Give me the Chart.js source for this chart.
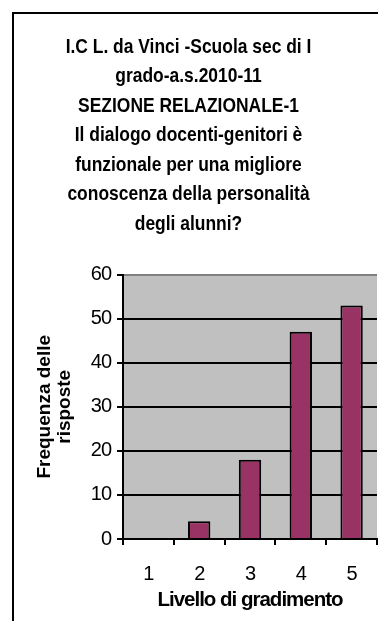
<!DOCTYPE html>
<html>
<head>
<meta charset="utf-8">
<script src="https://cdn.jsdelivr.net/npm/chart.js@4/dist/chart.umd.min.js"></script>
<style>
  html, body { margin: 0; padding: 0; background: #fff; overflow: hidden; }
  #wrap { position: relative; width: 394px; height: 621px; }
</style>
</head>
<body>
<div id="wrap"><canvas id="c" width="394" height="621"></canvas></div>
<script>
// Survey results: how many answers for each satisfaction level
const titleLines = [
  'I.C L. da Vinci -Scuola sec di I',
  'grado-a.s.2010-11',
  'SEZIONE RELAZIONALE-1',
  'Il dialogo docenti-genitori è',
  'funzionale per una migliore',
  'conoscenza della personalità',
  'degli alunni?'
];
const categories = ['1', '2', '3', '4', '5'];
const frequencies = [0, 4, 18, 47, 53];
const yTicks = [0, 10, 20, 30, 40, 50, 60];
const yTitle = ['Frequenza delle', 'risposte'];
const xTitle = 'Livello di gradimento';

const SANS = "'Liberation Sans', Arial, sans-serif";
const TIGHT = '-1px';   // condensed look for tick text and axis title
const NORMAL = '0px';
const TITLE_SQUEEZE = 0.83; // narrow title lettering

// draw a box with its own letter spacing
function withSpacing(obj, method, spacing) {
  if (!obj || obj['_sp_' + method]) return;
  const orig = obj[method];
  obj[method] = function () {
    const c = this.ctx;
    const prev = c.letterSpacing;
    c.letterSpacing = spacing;
    orig.apply(this, arguments);
    c.letterSpacing = prev;
  };
  obj['_sp_' + method] = true;
}

// chart title drawn with narrow lettering, centred on its own box
function narrowTitle(block) {
  if (!block || block._narrow) return;
  const orig = block.draw;
  block.draw = function () {
    const c = this.ctx;
    const cx = (this.left + this.right) / 2;
    c.save();
    c.letterSpacing = NORMAL;
    c.translate(cx, 0);
    c.scale(TITLE_SQUEEZE, 1);
    c.translate(-cx, 0);
    orig.apply(this, arguments);
    c.restore();
  };
  block._narrow = true;
}

// grey plot area behind the bars; also sets the tight text spacing
const plotBackground = {
  id: 'plotBackground',
  afterLayout(chart) {
    narrowTitle(chart.titleBlock);
  },
  beforeDraw(chart) {
    const { ctx, chartArea: a } = chart;
    ctx.letterSpacing = TIGHT;
    ctx.save();
    ctx.fillStyle = '#C0C0C0';
    ctx.fillRect(a.left, a.top, a.right - a.left, a.bottom - a.top);
    ctx.restore();
  }
};

// outer frame of the chart object (left and top edges)
const outerFrame = {
  id: 'outerFrame',
  afterDraw(chart) {
    const { ctx, width, height } = chart;
    ctx.save();
    ctx.strokeStyle = '#000';
    ctx.lineWidth = 2;
    ctx.beginPath();
    ctx.moveTo(13, height);
    ctx.lineTo(13, 13);
    ctx.lineTo(width, 13);
    ctx.stroke();
    ctx.restore();
  }
};

new Chart(document.getElementById('c'), {
  type: 'bar',
  data: {
    labels: categories,
    datasets: [{
      data: frequencies,
      backgroundColor: '#993366',
      borderColor: '#000',
      borderWidth: 2,
      borderSkipped: 'start',
      categoryPercentage: 1,
      barPercentage: 0.44
    }]
  },
  options: {
    responsive: false,
    animation: false,
    devicePixelRatio: 1,
    layout: { padding: { left: 0, right: 17, top: 0, bottom: 0 } },
    plugins: {
      legend: { display: false },
      tooltip: { enabled: false },
      title: {
        display: true,
        text: titleLines,
        color: '#000',
        font: { family: SANS, size: 21, weight: 'bold', lineHeight: 1.405 },
        padding: { top: 32, bottom: 36 }
      }
    },
    scales: {
      x: {
        afterFit(scale) { scale.height = 82; },
        grid: {
          drawOnChartArea: false,
          drawTicks: true,
          tickLength: 6,
          tickColor: '#000',
          lineWidth: 2,
          offset: true
        },
        border: { color: '#000', width: 2 },
        ticks: {
          color: '#000',
          padding: 17,
          font: { family: SANS, size: 20 }
        },
        title: {
          display: true,
          text: xTitle,
          color: '#000',
          font: { family: SANS, size: 20.5, weight: 'bold', lineHeight: 1.2 },
          padding: { top: 0, bottom: 8 }
        }
      },
      y: {
        min: yTicks[0],
        max: yTicks[yTicks.length - 1],
        afterFit(scale) {
          scale.width = 123;
          withSpacing(scale, 'drawTitle', NORMAL);
        },
        ticks: {
          stepSize: yTicks[1] - yTicks[0],
          color: '#000',
          padding: 6,
          font: { family: SANS, size: 20 }
        },
        grid: {
          color: (ctx) => (ctx.tick && ctx.tick.value === yTicks[yTicks.length - 1]) ? '#808080' : '#000',
          tickColor: '#000',
          lineWidth: 2,
          tickLength: 6
        },
        border: { color: '#000', width: 2 },
        title: {
          display: true,
          text: yTitle,
          color: '#000',
          font: { family: SANS, size: 19, weight: 'bold', lineHeight: 1.05 },
          padding: { top: 35, bottom: 0 }
        }
      }
    }
  },
  plugins: [plotBackground, outerFrame]
});
</script>
</body>
</html>
